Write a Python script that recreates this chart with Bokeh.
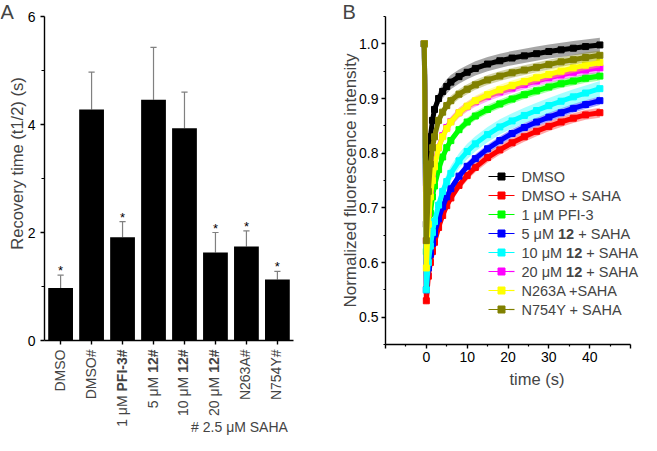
import math
from bokeh.plotting import figure
from bokeh.models import Range1d, FixedTicker, Label, PrintfTickFormatter
from bokeh.layouts import row
from bokeh.embed import file_html
from bokeh.resources import INLINE
from bokeh.core.properties import value

# ---------------- Panel A data ----------------
a_label_plain = ["DMSO", "DMSO#", "1 μM", "5 μM", "10 μM", "20 μM", "N263A#", "N754Y#"]
a_label_bold = ["", "", "PFI-3#", "12#", "12#", "12#", "", ""]
t_half = [0.97, 4.28, 1.91, 4.46, 3.93, 1.63, 1.74, 1.13]
t_half_err = [0.24, 0.69, 0.29, 0.97, 0.67, 0.37, 0.29, 0.15]
significant = [True, False, True, False, False, True, True, True]
a_yticks = [0, 2, 4, 6]
a_yminor = [1, 3, 5]
a_note = "# 2.5 μM SAHA"

# ---------------- Panel B data ----------------
time_s = [-0.5, 0, 0.5, 1, 1.5, 2, 3, 4, 5, 6, 8, 10, 12, 15, 18, 21, 24, 27, 30, 33, 36, 39, 42.5]
dmso = [1.0, 0.67, 0.77, 0.83, 0.86, 0.88, 0.90, 0.913, 0.922, 0.93, 0.94, 0.948, 0.955, 0.963, 0.969, 0.974, 0.978, 0.982, 0.986, 0.989, 0.992, 0.995, 0.998]
dmso_saha = [1.0, 0.53, 0.575, 0.60, 0.62, 0.637, 0.664, 0.686, 0.704, 0.718, 0.741, 0.759, 0.774, 0.792, 0.806, 0.819, 0.83, 0.84, 0.849, 0.857, 0.864, 0.87, 0.874]
pfi3 = [1.0, 0.62, 0.66, 0.69, 0.72, 0.74, 0.77, 0.793, 0.81, 0.823, 0.843, 0.857, 0.868, 0.88, 0.89, 0.899, 0.907, 0.914, 0.921, 0.927, 0.932, 0.937, 0.941]
c12_5 = [1.0, 0.55, 0.59, 0.615, 0.635, 0.652, 0.68, 0.702, 0.72, 0.735, 0.758, 0.776, 0.79, 0.808, 0.823, 0.836, 0.847, 0.857, 0.866, 0.874, 0.882, 0.889, 0.896]
c12_10 = [1.0, 0.55, 0.60, 0.63, 0.655, 0.675, 0.705, 0.73, 0.748, 0.763, 0.786, 0.803, 0.817, 0.834, 0.848, 0.859, 0.869, 0.878, 0.887, 0.895, 0.903, 0.91, 0.918]
c12_20 = [1.0, 0.64, 0.69, 0.73, 0.76, 0.78, 0.81, 0.832, 0.847, 0.858, 0.874, 0.885, 0.894, 0.904, 0.912, 0.919, 0.926, 0.932, 0.938, 0.943, 0.948, 0.952, 0.956]
n263a = [1.0, 0.59, 0.67, 0.72, 0.75, 0.775, 0.81, 0.83, 0.845, 0.857, 0.874, 0.886, 0.896, 0.907, 0.916, 0.924, 0.931, 0.938, 0.944, 0.95, 0.956, 0.961, 0.966]
n754y = [1.0, 0.64, 0.73, 0.78, 0.81, 0.83, 0.86, 0.875, 0.887, 0.896, 0.908, 0.917, 0.925, 0.934, 0.941, 0.947, 0.952, 0.957, 0.962, 0.967, 0.971, 0.975, 0.979]
series_values = [dmso, dmso_saha, pfi3, c12_5, c12_10, c12_20, n263a, n754y]
series_sem = [0.013, 0.009, 0.008, 0.008, 0.014, 0.009, 0.009, 0.009]
series_colors = ["#000000", "#ff0000", "#00ff00", "#0000ff", "#00ffff", "#ff00ff", "#ffff00", "#808000"]
legend_parts = [
    ("DMSO", "", ""),
    ("DMSO + SAHA", "", ""),
    ("1 μM PFI-3", "", ""),
    ("5 μM", "12", "+ SAHA"),
    ("10 μM", "12", "+ SAHA"),
    ("20 μM", "12", "+ SAHA"),
    ("N263A +SAHA", "", ""),
    ("N754Y + SAHA", "", ""),
]
b_xticks = [-10, 0, 10, 20, 30, 40, 50]
b_xminor = [-5, 5, 15, 25, 35, 45]
b_yticks = [0.5, 0.6, 0.7, 0.8, 0.9, 1.0]
b_yminor = [0.45, 0.55, 0.65, 0.75, 0.85, 0.95, 1.05]

FONT = "Liberation Sans"

# Arial / Liberation Sans advance widths (em) for the characters used
REG_W = {" ": 0.278, "μ": 0.576, "M": 0.833, "S": 0.667, "A": 0.667, "H": 0.722, "+": 0.584}
BOLD_W = {"P": 0.667, "F": 0.611, "I": 0.278, "-": 0.333, "#": 0.556}


def text_w(s, size, bold=False):
    table = BOLD_W if bold else REG_W
    return sum(table.get(ch, 0.556) for ch in s) * size


def frame_map(W, H, x0, x1, px0, px1, y0, y1, py_top, py_bot):
    """Ranges so that the figure's frame fills the canvas and the data box sits at the given pixels."""
    sx = (px1 - px0) / (x1 - x0)
    sy = (py_bot - py_top) / (y1 - y0)
    xs = x0 - px0 / sx
    xe = x1 + (W - px1) / sx
    ye = y1 + py_top / sy
    ys = y0 - (H - py_bot) / sy
    return Range1d(xs, xe), Range1d(ys, ye), (lambda px: xs + px / sx), (lambda py: ye - py / sy), sx, sy


def style_axis(ax, tick_out, minor_out, lab_size, standoff):
    ax.axis_line_color = "black"
    ax.axis_line_width = 1.4
    ax.major_tick_line_color = "black"
    ax.major_tick_line_width = 1.4
    ax.minor_tick_line_color = "black"
    ax.minor_tick_line_width = 1.2
    ax.major_tick_in = 0
    ax.major_tick_out = tick_out
    ax.minor_tick_in = 0
    ax.minor_tick_out = minor_out
    ax.major_label_text_font = FONT
    ax.major_label_text_font_size = lab_size
    ax.major_label_text_color = "black"
    ax.major_label_standoff = standoff


H = 435
WA, WB = 322, 319

# ================= Panel A =================
xr, yr, ax_x, ax_y, asx, asy = frame_map(WA, H, -0.52, 7.52, 44, 293, 0, 6, 16, 340)
pa = figure(width=WA, height=H, x_range=xr, y_range=yr, output_backend="svg",
            toolbar_location=None, min_border=0, min_border_left=0, min_border_right=0,
            min_border_top=0, min_border_bottom=0)
pa.outline_line_color = None
pa.grid.visible = False

pos = list(range(len(t_half)))
err_top = [v + e for v, e in zip(t_half, t_half_err)]
pa.segment(x0=pos, y0=t_half, x1=pos, y1=err_top, line_color="#808080", line_width=1.2)
pa.segment(x0=[p - 0.1 for p in pos], y0=err_top, x1=[p + 0.1 for p in pos], y1=err_top,
           line_color="#808080", line_width=1.2)
pa.vbar(x=pos, top=t_half, width=0.8, fill_color="black", line_color=None)
star_x = [p for p, s in zip(pos, significant) if s]
star_y = [t + 4.5 / asy for t, s in zip(err_top, significant) if s]
pa.text(x=star_x, y=star_y, text=["*"] * len(star_x), text_font=value(FONT),
        text_font_size="13px", text_align="center", text_baseline="middle", text_color="black")

ya = pa.yaxis[0]
ya.fixed_location = -0.52
ya.bounds = (0, 6)
ya.ticker = FixedTicker(ticks=a_yticks, minor_ticks=a_yminor)
style_axis(ya, 4, 3, "14px", 5)
xa = pa.xaxis[0]
xa.fixed_location = 0
xa.bounds = (-0.52, 7.52)
xa.ticker = FixedTicker(ticks=pos)
style_axis(xa, 4, 0, "1px", 0)
xa.major_label_overrides = {p: "" for p in pos}

LAB = 14
for p, plain, bold in zip(pos, a_label_plain, a_label_bold):
    gap = 9
    if bold:
        pa.add_layout(Label(x=p, y=-gap / asy, text=bold, angle=math.pi / 2, text_align="right",
                            text_baseline="middle", x_offset=-1, text_font=FONT,
                            text_font_style="bold", text_font_size=f"{LAB}px"))
        gap += text_w(bold, LAB, True) + text_w(" ", LAB)
    pa.add_layout(Label(x=p, y=-gap / asy, text=plain, angle=math.pi / 2, text_align="right",
                        text_baseline="middle", x_offset=-1, text_font=FONT,
                        text_font_size=f"{LAB}px"))

pa.add_layout(Label(x=ax_x(16), y=ax_y(163), text="Recovery time (t1/2) (s)",
                    angle=math.pi / 2, text_align="center", text_baseline="middle",
                    text_font=FONT, text_font_size="16.5px"))
pa.add_layout(Label(x=ax_x(239), y=ax_y(426), text=a_note, text_align="center",
                    text_baseline="middle", text_font=FONT, text_font_size="14px"))
pa.add_layout(Label(x=ax_x(0), y=ax_y(0), text="A", text_align="left",
                    text_baseline="top", text_font=FONT, text_font_size="20px"))

# ================= Panel B =================
xr, yr, bx_x, bx_y, bsx, bsy = frame_map(WB, H, -10, 50, 63, 308, 0.45, 1.05, 16, 344)
pb = figure(width=WB, height=H, x_range=xr, y_range=yr, output_backend="svg",
            toolbar_location=None, min_border=0, min_border_left=0, min_border_right=0,
            min_border_top=0, min_border_bottom=0)
pb.outline_line_color = None
pb.grid.visible = False

for vals, sem, col in zip(series_values, series_sem, series_colors):
    lo = [v - sem for v in vals]
    hi = [v + sem for v in vals]
    pb.varea(x=time_s, y1=lo, y2=hi, fill_color=col, fill_alpha=0.35)
    pb.line(x=time_s, y=vals, line_color=col, line_width=5)
    pb.scatter(x=time_s, y=vals, marker="square", size=6, fill_color=col, line_color=col)

yb = pb.yaxis[0]
yb.fixed_location = -10
yb.bounds = (0.45, 1.05)
yb.ticker = FixedTicker(ticks=b_yticks, minor_ticks=b_yminor)
yb.formatter = PrintfTickFormatter(format="%.1f")
style_axis(yb, 4, 2, "14px", 3)
xb = pb.xaxis[0]
xb.fixed_location = 0.45
xb.bounds = (-10, 50)
xb.ticker = FixedTicker(ticks=b_xticks, minor_ticks=b_xminor)
style_axis(xb, 4, 2, "14px", 3)
xb.major_label_overrides = {-10: "", 50: ""}

# manual legend (pixel layout inside panel B canvas)
LEG = 14.5
for i, ((p1, p2, p3), col) in enumerate(zip(legend_parts, series_colors)):
    ly = bx_y(176 + 19 * i)
    pb.segment(x0=[bx_x(166)], y0=[ly], x1=[bx_x(192)], y1=[ly], line_color=col, line_width=1.2)
    pb.scatter(x=[bx_x(179)], y=[ly], marker="square", size=7, fill_color=col, line_color=col)
    pb.add_layout(Label(x=bx_x(199), y=ly, text=p1, text_align="left", text_baseline="middle",
                        text_font=FONT, text_font_size=f"{LEG}px"))
    if p2:
        o2 = text_w(p1, LEG) + text_w(" ", LEG)
        pb.add_layout(Label(x=bx_x(199), y=ly, x_offset=o2, text=p2, text_align="left",
                            text_baseline="middle", text_font=FONT, text_font_style="bold",
                            text_font_size=f"{LEG}px"))
        o3 = o2 + text_w(p2, LEG, True) + text_w(" ", LEG)
        pb.add_layout(Label(x=bx_x(199), y=ly, x_offset=o3, text=p3, text_align="left",
                            text_baseline="middle", text_font=FONT, text_font_size=f"{LEG}px"))

pb.add_layout(Label(x=bx_x(28), y=bx_y(180), text="Normalized fluorescence intensity",
                    angle=math.pi / 2, text_align="center", text_baseline="middle",
                    text_font=FONT, text_font_size="17px"))
pb.add_layout(Label(x=27.1, y=bx_y(378), text="time (s)", text_align="center",
                    text_baseline="middle", text_font=FONT, text_font_size="16.5px"))
pb.add_layout(Label(x=bx_x(20), y=bx_y(0), text="B", text_align="left",
                    text_baseline="top", text_font=FONT, text_font_size="20px"))

layout = row(pa, pb)
open("out.html", "w").write(file_html(layout, INLINE))
